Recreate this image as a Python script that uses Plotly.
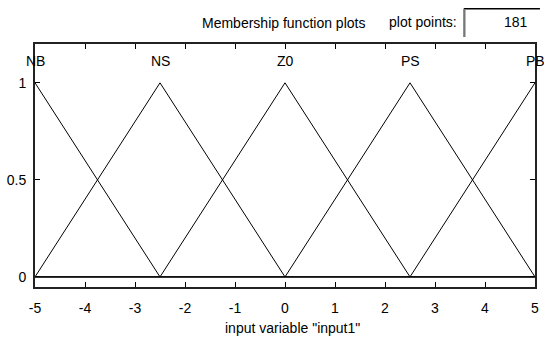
import plotly.graph_objects as go

# Membership functions of input1 (triangular), given by their vertices
mf_names = ["NB", "NS", "Z0", "PS", "PB"]
mf_peaks = [-5, -2.5, 0, 2.5, 5]
mf_x = [
    [-5, -2.5, 5],
    [-5, -2.5, 0, 5],
    [-5, -2.5, 0, 2.5, 5],
    [-5, 0, 2.5, 5],
    [-5, 2.5, 5],
]
mf_y = [
    [1, 0, 0],
    [0, 1, 0, 0],
    [0, 0, 1, 0, 0],
    [0, 0, 1, 0],
    [0, 0, 1],
]

x_ticks = [-5, -4, -3, -2, -1, 0, 1, 2, 3, 4, 5]
x_tick_text = ["-5", "-4", "-3", "-2", "-1", "0", "1", "2", "3", "4", "5"]
y_ticks = [0, 0.5, 1]
y_tick_text = ["0", "0.5", "1"]
plot_points = 181

W, H = 544, 341
L, R, T, B = 35, 5, 44, 54
PW, PH = W - L - R, H - T - B

def px(xp):
    return (xp - L) / PW

def py(yp):
    return (H - B - yp) / PH

FONT = dict(family="Arial, Liberation Sans, sans-serif", size=14, color="black")

fig = go.Figure()
for xs, ys in zip(mf_x, mf_y):
    fig.add_trace(go.Scatter(x=xs, y=ys, mode="lines",
                             line=dict(color="black", width=1),
                             hoverinfo="skip", showlegend=False))

annotations = []
for name, peak in zip(mf_names, mf_peaks):
    annotations.append(dict(x=peak, y=1.113, xref="x", yref="y", text=name,
                            showarrow=False, xanchor="center", yanchor="middle",
                            font=FONT))

annotations += [
    dict(x=px(285), y=py(23), xref="paper", yref="paper",
         text="Membership function plots", showarrow=False,
         xanchor="center", yanchor="middle", font=FONT),
    dict(x=px(390), y=py(22), xref="paper", yref="paper",
         text="plot points:", showarrow=False,
         xanchor="left", yanchor="middle", font=FONT),
    dict(x=px(534), y=py(22), xref="paper", yref="paper",
         text=str(plot_points), showarrow=False,
         xanchor="right", yanchor="middle", font=FONT),
    dict(x=px(295), y=py(328), xref="paper", yref="paper",
         text='input variable "input1"', showarrow=False,
         xanchor="center", yanchor="middle", font=FONT),
]

# sunken edit box around the plot-points value
shapes = [
    dict(type="path", xref="paper", yref="paper",
         path=f"M {px(467.5)},{py(37)} L {px(467.5)},{py(8.5)} L {px(544)},{py(8.5)}",
         line=dict(color="black", width=1)),
    dict(type="path", xref="paper", yref="paper",
         path=f"M {px(468.5)},{py(37)} L {px(468.5)},{py(9.5)} L {px(544)},{py(9.5)}",
         line=dict(color="#808080", width=1)),
]

fig.update_layout(
    width=W, height=H,
    margin=dict(l=L, r=R, t=T, b=B, pad=0),
    paper_bgcolor="white", plot_bgcolor="white",
    font=FONT,
    annotations=annotations,
    shapes=shapes,
    xaxis=dict(range=[-5, 5], tickvals=x_ticks, ticktext=x_tick_text,
               ticks="inside", ticklen=5,
               tickwidth=1, tickcolor="black", showline=True, linewidth=2,
               linecolor="#222222", mirror="ticks", showgrid=False,
               zeroline=False, tickfont=FONT, ticklabelstandoff=7),
    yaxis=dict(range=[-0.052, 1.2], tickvals=y_ticks, ticktext=y_tick_text,
               ticks="inside", ticklen=5, tickwidth=1, tickcolor="black",
               showline=True, linewidth=2, linecolor="#222222", mirror="ticks",
               showgrid=False, zeroline=False, tickfont=FONT,
               ticklabelstandoff=4),
)

fig.write_html("out.html")
